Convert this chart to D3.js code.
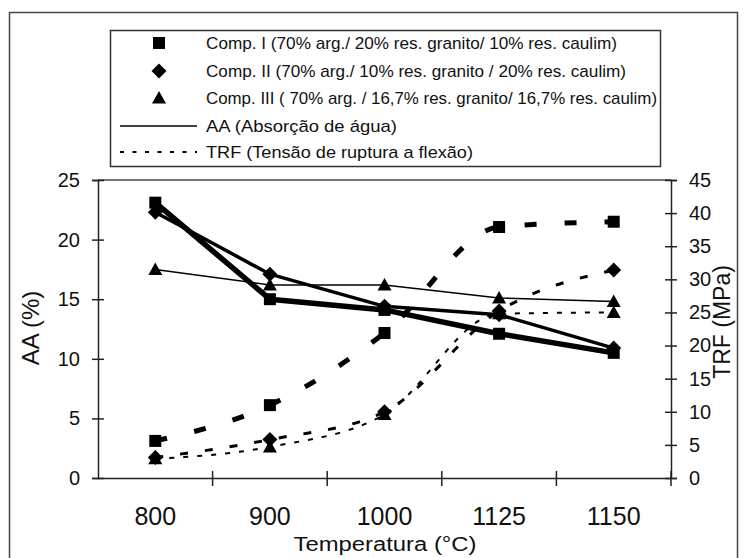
<!DOCTYPE html>
<html>
<head>
<meta charset="utf-8">
<script src="https://cdn.jsdelivr.net/npm/d3@7"></script>
<style>
  html, body { margin: 0; padding: 0; background: #fff; }
  svg { display: block; }
  text { font-family: "Liberation Sans", Arial, sans-serif; fill: #111; }
</style>
</head>
<body>
<script>
// Firing temperatures (category axis)
const categories = ["800", "900", "1000", "1125", "1150"];

// Water absorption AA (%) per composition
const aaCompI   = [23.1, 15.0, 14.1, 12.1, 10.5];
const aaCompII  = [22.3, 17.1, 14.4, 13.7, 10.9];
const aaCompIII = [17.5, 16.2, 16.2, 15.1, 14.8];

// Flexural rupture stress TRF (MPa) per composition
const trfCompI   = [5.6, 11.0, 21.9, 37.9, 38.7];
const trfCompII  = [3.1, 5.8, 10.0, 25.2, 31.4];
const trfCompIII = [2.9, 4.7, 9.6, 24.8, 25.0];

// Axis ticks
const leftTicks  = [0, 5, 10, 15, 20, 25];
const rightTicks = [0, 5, 10, 15, 20, 25, 30, 35, 40, 45];

// Legend entries
const legendMarkers = [
  { symbol: "square",   label: "Comp. I (70% arg./ 20% res. granito/ 10% res. caulim)",      len: 411 },
  { symbol: "diamond",  label: "Comp. II (70% arg./ 10% res. granito / 20% res. caulim)",    len: 420 },
  { symbol: "triangle", label: "Comp. III ( 70% arg. / 16,7% res. granito/ 16,7% res. caulim)", len: 451 }
];
const legendLines = [
  { style: "solid",  label: "AA (Absorção de água)",              len: 191 },
  { style: "dotted", label: "TRF (Tensão de ruptura a flexão)",   len: 267 }
];

const W = 746, H = 558;
const plot = { left: 98, right: 671, top: 180, bottom: 478 };

const svg = d3.select("body").append("svg")
  .attr("width", W).attr("height", H);

// outer chart frame
svg.append("rect")
  .attr("x", 9.5).attr("y", 12.5)
  .attr("width", 728).attr("height", 580)
  .attr("fill", "none").attr("stroke", "#444").attr("stroke-width", 1.5);

const x = d3.scaleBand().domain(categories).range([plot.left, plot.right]).padding(0);
const cx = c => x(c) + x.bandwidth() / 2;
const yL = d3.scaleLinear().domain([0, 25]).range([plot.bottom, plot.top]);
const yR = d3.scaleLinear().domain([0, 45]).range([plot.bottom, plot.top]);

// plot area top border
svg.append("line")
  .attr("x1", plot.left).attr("x2", plot.right)
  .attr("y1", plot.top).attr("y2", plot.top)
  .attr("stroke", "#444").attr("stroke-width", 1.5);

// left axis
const gL = svg.append("g").attr("transform", `translate(${plot.left},0)`)
  .call(d3.axisLeft(yL).tickValues(leftTicks).tickSize(6).tickPadding(12));
gL.selectAll(".tick line").attr("x1", 6).attr("x2", -6);
gL.selectAll(".tick text").attr("font-size", 20).attr("fill", "#111");

// right axis
const gR = svg.append("g").attr("transform", `translate(${plot.right},0)`)
  .call(d3.axisRight(yR).tickValues(rightTicks).tickSize(6).tickPadding(12));
gR.selectAll(".tick line").attr("x1", -6).attr("x2", 6);
gR.selectAll(".tick text").attr("font-size", 20).attr("fill", "#111");

// bottom axis: labels centred on categories, ticks between categories
const gB = svg.append("g").attr("transform", `translate(0,${plot.bottom})`)
  .call(d3.axisBottom(x).tickSize(0).tickPadding(0));
gB.selectAll(".tick text").attr("font-size", 25).attr("fill", "#111")
  .attr("y", 47).attr("dy", 0);
gB.selectAll(".between")
  .data(categories)
  .join("line")
  .attr("class", "between")
  .attr("x1", c => x(c) + x.bandwidth()).attr("x2", c => x(c) + x.bandwidth())
  .attr("y1", -7).attr("y2", 8)
  .attr("stroke", "#222").attr("stroke-width", 1.5);

[gL, gR, gB].forEach(g => {
  g.select(".domain").attr("stroke", "#222").attr("stroke-width", 1.5);
  g.selectAll(".tick line").attr("stroke", "#222").attr("stroke-width", 1.5);
  g.attr("font-family", null);
});

// axis titles
svg.append("text")
  .attr("x", 385).attr("y", 551)
  .attr("text-anchor", "middle").attr("font-size", 20)
  .attr("textLength", 183).attr("lengthAdjust", "spacingAndGlyphs")
  .text("Temperatura (°C)");
svg.append("text")
  .attr("transform", "translate(39,328) rotate(-90)")
  .attr("text-anchor", "middle").attr("font-size", 24)
  .text("AA (%)");
svg.append("text")
  .attr("transform", "translate(730,322) rotate(-90)")
  .attr("text-anchor", "middle").attr("font-size", 23)
  .text("TRF (MPa)");

// marker shapes
function markerPath(kind) {
  if (kind === "square") return "M-6,-6H6V6H-6Z";
  if (kind === "diamond") return "M0,-7.5L7.5,0L0,7.5L-7.5,0Z";
  return "M0,-7L7,5.5L-7,5.5Z";
}

// series definitions
const aaSeries = [
  { values: aaCompI,   symbol: "square",   width: 5.5 },
  { values: aaCompII,  symbol: "diamond",  width: 3.5 },
  { values: aaCompIII, symbol: "triangle", width: 1.5 }
];
const trfSeries = [
  { values: trfCompI,   symbol: "square",   width: 5,   dash: "12,28" },
  { values: trfCompII,  symbol: "diamond",  width: 3,   dash: "8,17" },
  { values: trfCompIII, symbol: "triangle", width: 2,   dash: "5,9" }
];

const aaLine = d3.line().x((d, i) => cx(categories[i])).y(d => yL(d));
const trfLine = d3.line().x((d, i) => cx(categories[i])).y(d => yR(d)).curve(d3.curveMonotoneX);

const gLines = svg.append("g");
aaSeries.forEach(s => {
  gLines.append("path").attr("d", aaLine(s.values))
    .attr("fill", "none").attr("stroke", "#000").attr("stroke-width", s.width)
    .attr("stroke-linejoin", "round");
});
trfSeries.forEach(s => {
  gLines.append("path").attr("d", trfLine(s.values))
    .attr("fill", "none").attr("stroke", "#000").attr("stroke-width", s.width)
    .attr("stroke-dasharray", s.dash);
});

const gMarks = svg.append("g");
aaSeries.forEach(s => {
  gMarks.selectAll(null).data(s.values).join("path")
    .attr("d", markerPath(s.symbol))
    .attr("transform", (d, i) => `translate(${cx(categories[i])},${yL(d)})`)
    .attr("fill", "#000");
});
trfSeries.forEach(s => {
  gMarks.selectAll(null).data(s.values).join("path")
    .attr("d", markerPath(s.symbol))
    .attr("transform", (d, i) => `translate(${cx(categories[i])},${yR(d)})`)
    .attr("fill", "#000");
});

// legend
const lg = svg.append("g");
lg.append("rect")
  .attr("x", 110.5).attr("y", 30.5).attr("width", 550).attr("height", 136)
  .attr("fill", "#fff").attr("stroke", "#333").attr("stroke-width", 1.5);
const rowY = [43, 71, 98, 126, 152];
legendMarkers.forEach((m, i) => {
  lg.append("path").attr("d", markerPath(m.symbol))
    .attr("transform", `translate(159,${rowY[i]})`).attr("fill", "#000");
  lg.append("text").attr("x", 206).attr("y", rowY[i] + 6)
    .attr("font-size", 17)
    .attr("textLength", m.len).attr("lengthAdjust", "spacingAndGlyphs")
    .text(m.label);
});
legendLines.forEach((l, j) => {
  const yy = rowY[3 + j];
  lg.append("line").attr("x1", 120).attr("x2", 197).attr("y1", yy).attr("y2", yy)
    .attr("stroke", "#000").attr("stroke-width", l.style === "solid" ? 1.5 : 2)
    .attr("stroke-dasharray", l.style === "solid" ? null : "4,8.5");
  lg.append("text").attr("x", 206).attr("y", yy + 6)
    .attr("font-size", 17)
    .attr("textLength", l.len).attr("lengthAdjust", "spacingAndGlyphs")
    .text(l.label);
});
</script>
</body>
</html>
